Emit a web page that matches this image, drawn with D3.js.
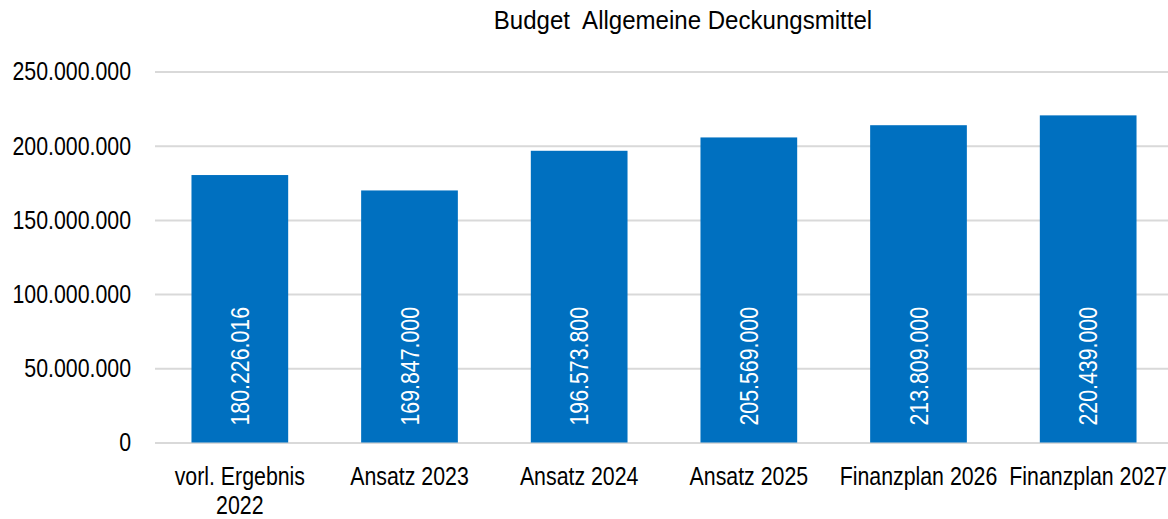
<!DOCTYPE html>
<html><head><meta charset="utf-8">
<script src="https://cdn.jsdelivr.net/npm/d3@7"></script>
<style>
html,body{margin:0;padding:0;background:#fff;}
text{font-family:"Liberation Sans",Arial,sans-serif;}
</style></head>
<body><svg id="c" width="1168" height="519"></svg>
<script>
const title = "Budget  Allgemeine Deckungsmittel";
const categories = [["vorl. Ergebnis","2022"],["Ansatz 2023"],["Ansatz 2024"],["Ansatz 2025"],["Finanzplan 2026"],["Finanzplan 2027"]];
const values = [180226016, 169847000, 196573800, 205569000, 213809000, 220439000];
const yTicks = [0, 50000000, 100000000, 150000000, 200000000, 250000000];

(function () {
const svg = d3.select("#c");
const fmt = v => v === 0 ? "0" : d3.format(",")(v).replace(/,/g, ".");
const pL = 155, pR = 1173, pT = 71.5, pB = 442.5;
const NARROW = 0.82;
const narrowBy = f => sel => sel.each(function () {
  const w = this.getComputedTextLength();
  this.setAttribute("textLength", w * f);
  this.setAttribute("lengthAdjust", "spacingAndGlyphs");
});
const narrow = narrowBy(NARROW);

const x = d3.scaleBand().domain(d3.range(categories.length)).range([pL, pR]).paddingInner(0.43).paddingOuter(0.215);
const y = d3.scaleLinear().domain([0, 250000000]).range([pB, pT]);

svg.append("text").attr("x", 683).attr("y", 29).attr("text-anchor", "middle")
  .style("white-space", "pre")
  .attr("font-size", 26).attr("fill", "#000").text(title).call(narrowBy(0.925));

// grid
const grid = svg.append("g").attr("transform", `translate(${pL},0)`)
  .call(d3.axisLeft(y).tickValues(yTicks).tickSize(-(1168 - pL)).tickFormat(""));
grid.select(".domain").remove();
grid.selectAll("line").attr("stroke", "#d9d9d9").attr("stroke-width", 2);

// y labels
const ya = svg.append("g").attr("transform", `translate(131,0)`)
  .call(d3.axisLeft(y).tickValues(yTicks).tickSize(0).tickPadding(0).tickFormat(fmt));
ya.select(".domain").remove();
ya.selectAll("text").attr("font-size", 26).attr("fill", "#000")
  .attr("font-family", '"Liberation Sans",Arial,sans-serif').call(narrow);

// bars
svg.append("g").selectAll("rect").data(values).join("rect")
  .attr("x", (d, i) => x(i)).attr("width", x.bandwidth())
  .attr("y", d => y(d)).attr("height", d => y(0) - y(d)).attr("fill", "#0070C0");

// value labels
svg.append("g").selectAll("text").data(values).join("text")
  .attr("transform", (d, i) => `translate(${x(i) + x.bandwidth() / 2},${y(0) - 17}) rotate(-90)`)
  .attr("dy", "0.35em").attr("font-size", 26).attr("fill", "#fff").text(d => fmt(d)).call(narrow);

// x labels
svg.append("g").selectAll("text").data(categories).join("text")
  .attr("x", (d, i) => x(i) + x.bandwidth() / 2).attr("y", 485)
  .attr("text-anchor", "middle").attr("font-size", 26).attr("fill", "#000")
  .each(function (d) {
    const t = d3.select(this);
    d.forEach((line, k) => t.append("tspan").attr("x", t.attr("x")).attr("dy", k === 0 ? 0 : 28.5).text(line));
  });
svg.selectAll("tspan").each(function () {
  const w = this.getComputedTextLength();
  this.setAttribute("textLength", w * NARROW);
  this.setAttribute("lengthAdjust", "spacingAndGlyphs");
});
})();
</script></body></html>
